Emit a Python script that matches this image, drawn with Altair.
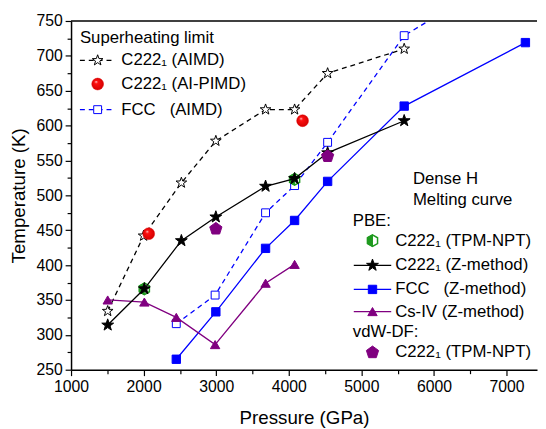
import altair as alt
import pandas as pd
import numpy as np

# ---------------- data ----------------
aimd_P = [1505, 2000, 2520, 2995, 3680, 4080, 4535, 5590]
aimd_T = [334, 442, 518, 578, 623, 623, 675, 710]
pimd_P = [2070, 4190]
pimd_T = [445, 607]
fccA_P = [2450, 2985, 3680, 4080, 4535, 5590, 7260]
fccA_T = [316, 357, 475, 514, 576, 729, 834]
zC_P = [1505, 2010, 2520, 2995, 3680, 4080, 4535, 5590]
zC_T = [314, 366, 435, 469, 513, 524, 561, 607]
zF_P = [2450, 2995, 3680, 4080, 4535, 5590, 7260]
zF_T = [265, 333, 424, 464, 520, 628, 719]
cs_P = [1505, 2010, 2450, 2985, 3680, 4080]
cs_T = [350, 347, 325, 286, 374, 401]
tpm_P = [2010, 4080]
tpm_T = [366, 523]
vdw_P = [2995, 4535]
vdw_T = [452, 556]

x_ticks = list(range(1000, 7500, 500))
y_ticks = list(range(250, 751, 25))

# ---------------- styling / layout ----------------
FONT = "Liberation Sans"
OX, OY = 72, 18          # plot origin in page pixels
W, H = 473, 354
BLUE = "#0000FF"
PURPLE = "#800080"
GREEN = "#1f9a1f"
LFS = 17                 # legend font size


def poly_path(n, r_out, r_in=None, rot=-90):
    pts = []
    k = n * 2 if r_in is not None else n
    for i in range(k):
        a = np.deg2rad(rot + i * 360.0 / k)
        r = r_out if (r_in is None or i % 2 == 0) else r_in
        pts.append((r * np.cos(a), r * np.sin(a)))
    return "M" + " L".join(f"{x:.3f},{y:.3f}" for x, y in pts) + " Z"


STAR = poly_path(5, 1.0, 0.4)
PENT = poly_path(5, 1.0)
HEX = poly_path(6, 1.0)
HEX_HALF = "M0,-1 L-0.866,-0.5 L-0.866,0.5 L0,1 Z"

xs = alt.Scale(domain=[1000, 7420], nice=False, zero=False)
ys = alt.Scale(domain=[250, 750], nice=False, zero=False)
xaxis = alt.Axis(values=x_ticks, title="Pressure (GPa)", grid=False,
                 labelExpr="datum.value % 1000 === 0 ? datum.label : ''",
                 format="d", labelOverlap=False, labelFlush=False,
                 tickSize={"condition": {"test": "datum.value % 1000 === 0", "value": 6}, "value": 4},
                 labelPadding=3, titlePadding=15)
yaxis = alt.Axis(values=y_ticks, title="Temperature (K)", grid=False,
                 labelExpr="datum.value % 50 === 0 ? datum.label : ''",
                 format="d", labelOverlap=False, labelFlush=False,
                 tickSize={"condition": {"test": "datum.value % 50 === 0", "value": 6}, "value": 4},
                 labelPadding=3, titlePadding=8)


def enc(ch):
    return ch.encode(x=alt.X("P:Q", scale=xs, axis=xaxis),
                     y=alt.Y("T:Q", scale=ys, axis=yaxis))


def df(P, T):
    return pd.DataFrame({"P": P, "T": T})


def series_line(P, T, color, dash=None):
    kw = dict(color=color, strokeWidth=1.3, clip=True)
    if dash:
        kw["strokeDash"] = dash
    return enc(alt.Chart(df(P, T)).mark_line(**kw))


def series_pts(P, T, **kw):
    base = dict(opacity=1, clip=True, strokeWidth=1)
    base.update(kw)
    return enc(alt.Chart(df(P, T)).mark_point(**base))


sphere = alt.RadialGradient(
    gradient="radial", x1=0.35, y1=0.3, r1=0.0, x2=0.5, y2=0.5, r2=0.55,
    stops=[alt.GradientStop(offset=0, color="#ffe0e0"),
           alt.GradientStop(offset=0.25, color="#ff1010"),
           alt.GradientStop(offset=1, color="#d00000")])

layers = [
    series_line(fccA_P, fccA_T, BLUE, [5, 4]),
    series_pts(fccA_P, fccA_T, shape="square", size=64, filled=False, fill="white", stroke=BLUE),
    series_line(aimd_P, aimd_T, "black", [5, 4]),
    series_pts(aimd_P, aimd_T, shape=STAR, size=130, filled=False, fill="white", stroke="black"),
    series_line(zF_P, zF_T, BLUE),
    series_pts(zF_P, zF_T, shape="square", size=72, filled=True, fill=BLUE, stroke=BLUE),
    series_line(cs_P, cs_T, PURPLE),
    series_pts(cs_P, cs_T, shape="triangle-up", size=90, filled=True, fill=PURPLE, stroke=PURPLE),
    series_pts(tpm_P, tpm_T, shape=HEX, size=140, filled=False, fill="white", stroke=GREEN, strokeWidth=1.5),
    series_pts(tpm_P, tpm_T, shape=HEX_HALF, size=140, filled=True, fill=GREEN, stroke=GREEN),
    series_line(zC_P, zC_T, "black"),
    series_pts(zC_P, zC_T, shape=STAR, size=160, filled=True, fill="black", stroke="black"),
    series_pts(vdw_P, vdw_T, shape=PENT, size=170, filled=True, fill=PURPLE, stroke=PURPLE),
    series_pts(pimd_P, pimd_T, shape="circle", size=144, filled=True, fill=sphere, stroke="#e00000", strokeWidth=0.5),
]

# ---------------- hand-made legends ----------------
one = pd.DataFrame({"a": [0]})


def ltext(x, y, s, size=LFS):
    return alt.Chart(one).mark_text(text=s, align="left", baseline="middle", font=FONT,
                                    fontSize=size, color="black").encode(
        x=alt.value(x - OX), y=alt.value(y - OY))


def lrule(x1, x2, y, color, dash=None):
    kw = dict(color=color, strokeWidth=1.3)
    if dash:
        kw["strokeDash"] = dash
    return alt.Chart(one).mark_rule(**kw).encode(
        x=alt.value(x1 - OX), x2=alt.value(x2 - OX), y=alt.value(y - OY))


def lpt(x, y, **kw):
    base = dict(opacity=1, strokeWidth=1)
    base.update(kw)
    return alt.Chart(one).mark_point(**base).encode(x=alt.value(x - OX), y=alt.value(y - OY))


S = "\u00a0"
legend = [
    ltext(81, 35, "Superheating limit"),
    lrule(81, 117, 58, "black", [5, 4]),
    lpt(99, 58, shape=STAR, size=130, filled=False, fill="white", stroke="black"),
    ltext(123, 58, "C222₁ (AIMD)"),
    lpt(99, 82, shape="circle", size=144, filled=True, fill=sphere, stroke="#e00000", strokeWidth=0.5),
    ltext(123, 82, "C222₁ (AI-PIMD)"),
    lrule(81, 117, 108, BLUE, [5, 4]),
    lpt(99, 108, shape="square", size=64, filled=False, fill="white", stroke=BLUE),
    ltext(123, 108, "FCC" + S + S + " (AIMD)"),

    ltext(419, 178, "Dense H"),
    ltext(419, 200, "Melting curve"),
    ltext(358, 221, "PBE:"),
    lpt(378, 241, shape=HEX, size=140, filled=False, fill="white", stroke=GREEN, strokeWidth=1.5),
    lpt(378, 241, shape=HEX_HALF, size=140, filled=True, fill=GREEN, stroke=GREEN),
    ltext(401, 241, "C222₁ (TPM-NPT)"),
    lrule(359, 397, 266, "black"),
    lpt(378, 266, shape=STAR, size=160, filled=True, fill="black", stroke="black"),
    ltext(401, 266, "C222₁ (Z-method)"),
    lrule(359, 397, 290.5, BLUE),
    lpt(378, 290.5, shape="square", size=72, filled=True, fill=BLUE, stroke=BLUE),
    ltext(401, 290.5, "FCC" + S + S + " (Z-method)"),
    lrule(359, 397, 313, PURPLE),
    lpt(378, 313, shape="triangle-up", size=90, filled=True, fill=PURPLE, stroke=PURPLE),
    ltext(401, 313, "Cs-IV (Z-method)"),
    ltext(358, 333.5, "vdW-DF:"),
    lpt(378, 354.5, shape=PENT, size=170, filled=True, fill=PURPLE, stroke=PURPLE),
    ltext(401, 354.5, "C222₁ (TPM-NPT)"),
]

top_border = alt.Chart(one).mark_rule(color="black", strokeWidth=1.5).encode(
    x=alt.value(0), x2=alt.value(W), y=alt.value(0))

chart = alt.layer(*layers, *legend, top_border).properties(
    width=W, height=H,
    autosize=alt.AutoSizeParams(type="none"),
    padding={"left": OX - 8, "top": OY - 8, "right": 1, "bottom": 57},
).configure_view(stroke=None).configure_axis(
    labelFont=FONT, titleFont=FONT, labelFontSize=16, titleFontSize=19,
    labelColor="black", titleColor="black", titleFontWeight="normal",
    domainColor="black", tickColor="black", domainWidth=1.5, tickWidth=1.2,
)

chart.save("out.html", embed_options={"renderer": "svg", "actions": False})
